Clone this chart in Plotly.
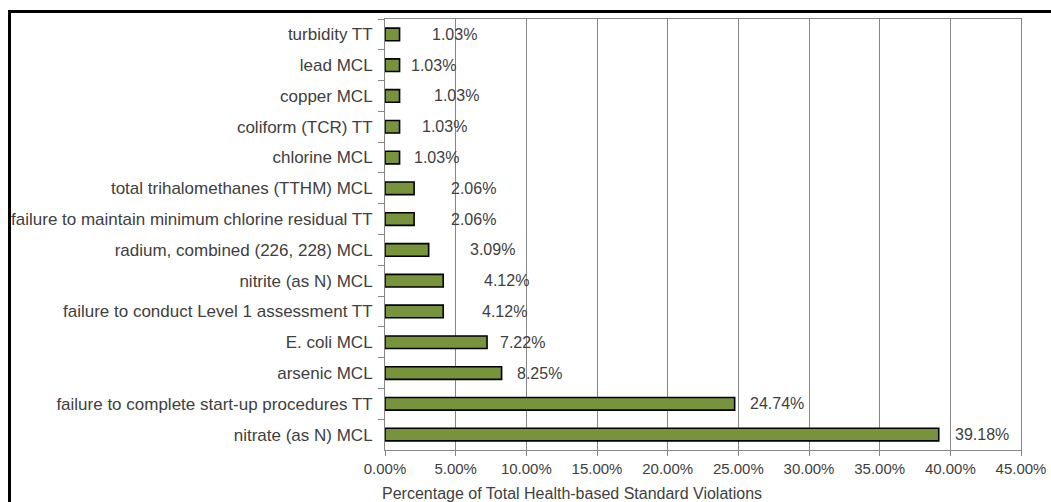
import plotly.graph_objects as go

# categories listed top to bottom as in the chart
violations = [
    "turbidity TT",
    "lead MCL",
    "copper MCL",
    "coliform (TCR) TT",
    "chlorine MCL",
    "total trihalomethanes (TTHM) MCL",
    "failure to maintain minimum chlorine residual TT",
    "radium, combined (226, 228) MCL",
    "nitrite (as N) MCL",
    "failure to conduct Level 1 assessment TT",
    "E. coli MCL",
    "arsenic MCL",
    "failure to complete start-up procedures TT",
    "nitrate (as N) MCL",
]
pct = [1.03, 1.03, 1.03, 1.03, 1.03, 2.06, 2.06, 3.09, 4.12, 4.12, 7.22, 8.25, 24.74, 39.18]

# hand-placed data labels in the original: gap (px) between bar end and label
label_gap = [30, 9, 32, 20, 12, 35, 35, 39, 39, 37, 11, 13, 13, 14]

W, H = 1051, 502
L, R, T, B = 385, 30, 19, 52
FONT = "Liberation Sans, Arial, sans-serif"
TXT = "#404040"
GRID = "#868686"

fig = go.Figure(go.Bar(
    x=pct, y=violations, orientation="h",
    marker=dict(color="#77933C", line=dict(color="black", width=1.6)),
    width=0.41, hoverinfo="x+y",
))

for v, cat, gap in zip(pct, violations, label_gap):
    fig.add_annotation(x=v, y=cat, text=f"{v:.2f}%", showarrow=False,
                       xanchor="left", xshift=gap,
                       font=dict(size=16, color=TXT, family=FONT))

pw, ph = W - L - R, H - T - B
def px_x(p):
    return (p - L) / pw
def px_y(p):
    return (H - B - p) / ph

# x-axis title sits left-aligned under the axis in the original
fig.add_annotation(text="Percentage of Total Health-based Standard Violations",
                   xref="paper", yref="paper", x=px_x(380), y=px_y(493),
                   xanchor="left", yanchor="middle", showarrow=False,
                   font=dict(size=16, color=TXT, family=FONT))

# outer chart frame (runs off the right and bottom of the picture)
fig.add_shape(type="rect", xref="paper", yref="paper",
              x0=px_x(9.5), x1=px_x(W + 20), y0=px_y(H + 20), y1=px_y(11.5),
              line=dict(color="black", width=3), layer="above")

fig.update_xaxes(range=[0, 45], dtick=5, tickformat=".2f", ticksuffix="%",
                 showgrid=True, gridcolor=GRID, gridwidth=1,
                 showline=True, linecolor=GRID, linewidth=1, mirror=True,
                 ticks="outside", ticklen=5, tickcolor=GRID,
                 tickfont=dict(size=15, color=TXT, family=FONT),
                 zeroline=False, fixedrange=True)
fig.update_yaxes(autorange="reversed", tickson="boundaries",
                 showline=True, linecolor=GRID, linewidth=1, mirror=True,
                 ticks="outside", ticklen=6, tickcolor=GRID,
                 ticklabelstandoff=8,
                 tickfont=dict(size=17, color=TXT, family=FONT),
                 showgrid=False, fixedrange=True)

fig.update_layout(width=W, height=H, bargap=0.59,
                  margin=dict(l=L, r=R, t=T, b=B, autoexpand=False),
                  plot_bgcolor="white", paper_bgcolor="white",
                  showlegend=False, font=dict(family=FONT, color=TXT))

fig.write_html("out.html", config={"displayModeBar": False},
               post_script="document.body.style.margin='0';")
